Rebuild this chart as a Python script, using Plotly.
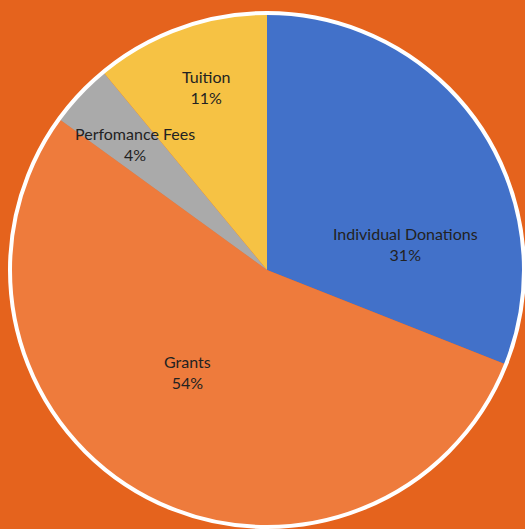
import plotly.graph_objects as go

labels = ["Individual Donations", "Grants", "Perfomance Fees", "Tuition"]
values = [31, 54, 4, 11]
colors = ["#4271C9", "#EE7B3C", "#AAAAAA", "#F6C244"]

# label anchor points (window pixels) for the slice labels
label_px = [(405, 244), (187, 372), (135, 144), (206, 87)]

W, H = 525, 529
dom = dict(x=[10 / W, 524 / W], y=[2 / H, 516 / H])

fig = go.Figure()
fig.add_trace(go.Pie(
    labels=labels,
    values=values,
    sort=False,
    direction="clockwise",
    rotation=0,
    marker=dict(colors=colors, line=dict(width=0)),
    textinfo="none",
    showlegend=False,
    hoverinfo="label+percent",
    domain=dom,
))
# white outer ring
fig.add_trace(go.Pie(
    labels=["ring"],
    values=[1],
    marker=dict(colors=["rgba(0,0,0,0)"], line=dict(color="white", width=4)),
    textinfo="none",
    showlegend=False,
    hoverinfo="skip",
    domain=dom,
))

total = sum(values)
for lab, val, (px, py) in zip(labels, values, label_px):
    fig.add_annotation(
        x=px / W, y=1 - py / H, xref="paper", yref="paper",
        xanchor="center", yanchor="middle",
        text=f"{lab}<br>{round(100 * val / total)}%",
        showarrow=False,
        font=dict(family="Lato, Open Sans, sans-serif", size=16, color="#222222"),
        align="center",
    )

fig.update_layout(
    width=W, height=H,
    margin=dict(l=0, r=0, t=0, b=0),
    paper_bgcolor="#E5631D",
    plot_bgcolor="#E5631D",
)

fig.write_html(
    "out.html",
    config={"displayModeBar": False},
    post_script="document.body.style.margin='0';document.body.style.overflow='hidden';",
)
